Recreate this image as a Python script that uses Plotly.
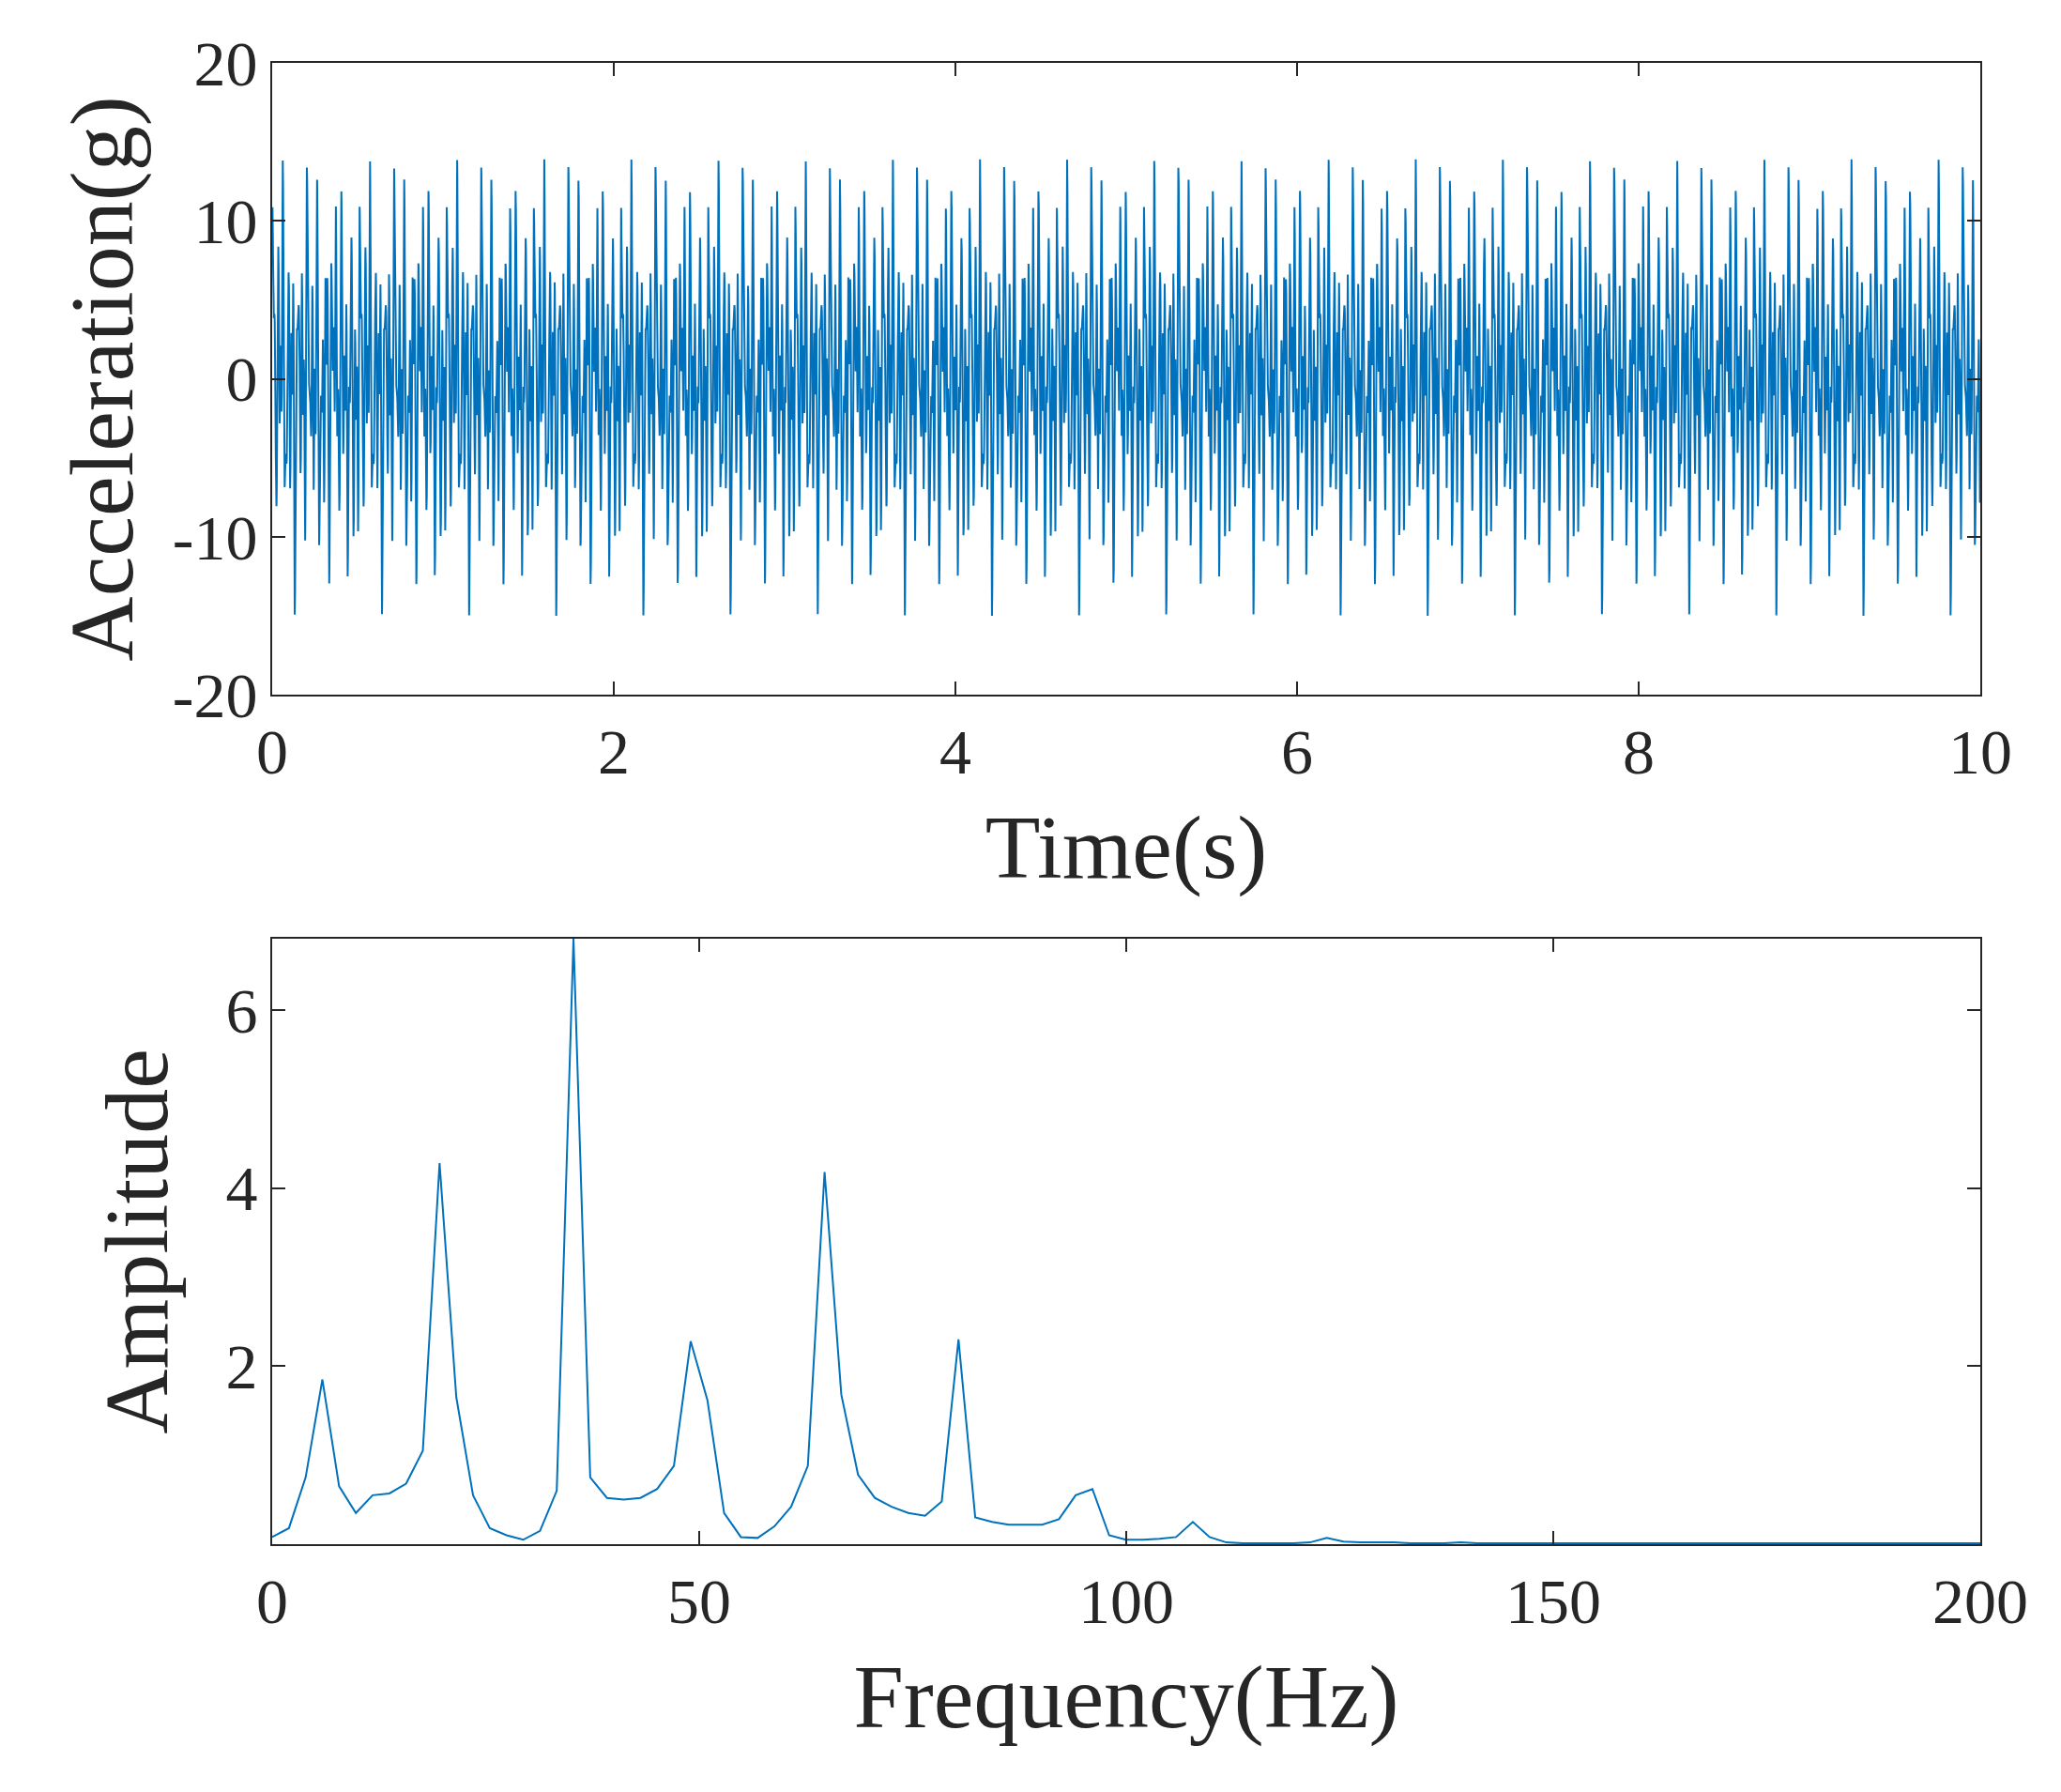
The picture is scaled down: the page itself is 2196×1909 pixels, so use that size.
import numpy as np
import plotly.graph_objects as go
from plotly.subplots import make_subplots

LINE = "#0072BD"
FONT = "Liberation Serif"
INK = "#262626"

# spectrum, bins of 1.96 Hz
df_hz = 1.96
amplitude = [0.08, 0.18, 0.75, 1.85, 0.65, 0.35, 0.55, 0.57, 0.68, 1.05,
             4.28, 1.65, 0.55, 0.18, 0.10, 0.05, 0.15, 0.60, 6.80, 0.75,
             0.52, 0.50, 0.52, 0.62, 0.88, 2.28, 1.62, 0.35, 0.08, 0.07,
             0.20, 0.42, 0.88, 4.18, 1.68, 0.78, 0.52, 0.42, 0.35, 0.32,
             0.48, 2.30, 0.30, 0.25, 0.22, 0.22, 0.22, 0.28, 0.55, 0.62,
             0.10, 0.05, 0.05, 0.06, 0.08, 0.25, 0.08, 0.02, 0.01, 0.01,
             0.01, 0.01, 0.02, 0.07, 0.03, 0.02, 0.02, 0.02, 0.01, 0.01,
             0.01, 0.02, 0.01, 0.01, 0.01, 0.01, 0.01, 0.01, 0.01, 0.01,
             0.01, 0.01, 0.01, 0.01, 0.01, 0.01, 0.01, 0.01, 0.01, 0.01,
             0.01, 0.01, 0.01, 0.01, 0.01, 0.01, 0.01, 0.01, 0.01, 0.01,
             0.01, 0.01, 0.01, 0.01]
freq = [i * df_hz for i in range(len(amplitude))]

# time signal rebuilt from the main spectral peaks (peak about 15 g)
peak_freq = [5.88, 19.6, 35.28, 49.0, 64.68, 80.36, 96.04]
peak_amp = [1.85, 4.28, 6.80, 2.28, 4.18, 2.30, 0.62]
peak_phase = [0.3, 1.1, 0.0, 2.2, 0.7, 1.6, 2.9]
peak_accel = 15.0
t = np.arange(0, 10.0001, 0.001)
accel = sum(a * np.sin(2 * np.pi * f * t + p)
            for f, a, p in zip(peak_freq, peak_amp, peak_phase))
accel = accel * peak_accel / np.abs(accel).max()

fig = make_subplots(rows=2, cols=1)
fig.add_trace(go.Scatter(x=t, y=accel, mode="lines",
                         line=dict(color=LINE, width=2)), row=1, col=1)
fig.add_trace(go.Scatter(x=freq, y=amplitude, mode="lines",
                         line=dict(color=LINE, width=2)), row=2, col=1)

axis = dict(showline=True, mirror="ticks", linecolor=INK, linewidth=2,
            ticks="inside", ticklen=14, tickwidth=2, tickcolor=INK,
            showgrid=False, zeroline=False,
            tickfont=dict(family=FONT, size=68, color=INK),
            title_font=dict(family=FONT, size=96, color=INK))

fig.update_xaxes(axis)
fig.update_yaxes(axis)
fig.update_xaxes(range=[0, 10], dtick=2, title_text="Time(s)",
                 title_standoff=30, row=1, col=1)
fig.update_yaxes(range=[-20, 20], tickvals=[-20, -10, 0, 10, 20],
                 ticktext=["-20", "-10", "0", "10", "20"], domain=[0.5735, 1],
                 title_text="Acceleration(g)", title_standoff=10, row=1, col=1)
fig.update_xaxes(range=[0, 200], dtick=50, title_text="Frequency(Hz)",
                 title_standoff=30, row=2, col=1)
fig.update_yaxes(range=[0, 6.8], tickvals=[2, 4, 6], title_text="Amplitude",
                 domain=[0, 0.4087], title_standoff=30, row=2, col=1)

fig.update_layout(width=2196, height=1909, showlegend=False,
                  plot_bgcolor="white", paper_bgcolor="white",
                  margin=dict(l=282, r=94, t=59, b=272))
fig.write_html("out.html")
